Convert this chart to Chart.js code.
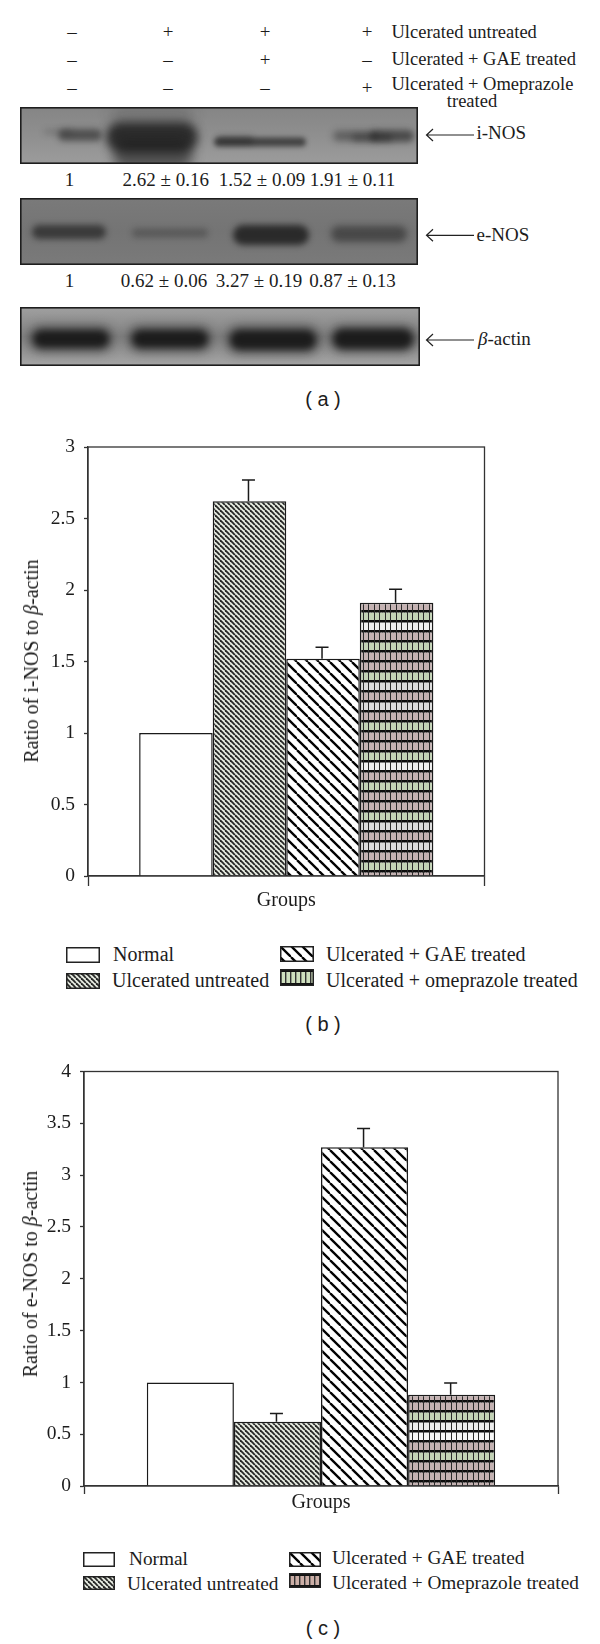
<!DOCTYPE html>
<html>
<head>
<meta charset="utf-8">
<title>i-NOS and e-NOS expression</title>
<script src="https://cdn.jsdelivr.net/npm/chart.js@4/dist/chart.umd.min.js"></script>
<style>
    html, body { margin: 0; padding: 0; background: #fff; }
    #page { position: relative; width: 600px; height: 1644px; overflow: hidden; font-family: "Liberation Serif", serif; color: #1c1c1c; }
    #page canvas { position: absolute; }
    .t { position: absolute; white-space: nowrap; font-size: 19px; line-height: 22px; transform: translateY(-50%); }
    .c { transform: translate(-50%, -50%); }
    .top { font-size: 18.5px; }
    .lb { font-size: 20px; }
    .lc { font-size: 19.3px; }
    .cap { font-family: "Liberation Sans", sans-serif; font-size: 20px; }
    .ytitle { font-size: 20px; transform: translate(-50%, -50%) rotate(-90deg); }
    svg { position: absolute; left: 0; top: 0; }
</style>
</head>
<body>
<div id="page">
    <canvas id="blot1"></canvas>
    <canvas id="blot2"></canvas>
    <canvas id="blot3"></canvas>
    <canvas id="chartB" width="600" height="510"></canvas>
    <canvas id="chartC" width="600" height="490"></canvas>
</div>
<script>
// chart values
const categories = ["Groups"];
const seriesB = ["Normal", "Ulcerated untreated", "Ulcerated + GAE treated", "Ulcerated + omeprazole treated"];
const seriesC = ["Normal", "Ulcerated untreated", "Ulcerated + GAE treated", "Ulcerated + Omeprazole treated"];
const valuesB = [1, 2.62, 1.52, 1.91];
const errorsB = [0, 0.15, 0.08, 0.095];
const valuesC = [1, 0.62, 3.27, 0.88];
const errorsC = [0, 0.08, 0.18, 0.115];
const ticksB = ["0", "0.5", "1", "1.5", "2", "2.5", "3"];
const ticksC = ["0", "0.5", "1", "1.5", "2", "2.5", "3", "3.5", "4"];

// blot panel text
const treatments = ["Ulcerated untreated", "Ulcerated + GAE treated", "Ulcerated + Omeprazole"];
const signs = [["–", "+", "+", "+"], ["–", "–", "+", "–"], ["–", "–", "–", "+"]];
const inosRatios = ["1", "2.62 ± 0.16", "1.52 ± 0.09", "1.91 ± 0.11"];
const enosRatios = ["1", "0.62 ± 0.06", "3.27 ± 0.19", "0.87 ± 0.13"];

const page = document.getElementById("page");
const SERIF = "Liberation Serif";

function addText(html, x, y, cls) {
    const el = document.createElement("div");
    el.className = "t " + (cls || "");
    el.innerHTML = html;
    el.style.left = x + "px";
    el.style.top = y + "px";
    page.appendChild(el);
    return el;
}

// ---- fill patterns ----
function tile(w, h, paint) {
    const c = document.createElement("canvas");
    c.width = w;
    c.height = h;
    paint(c.getContext("2d"));
    return c;
}

function diagonalTile(period, lineWidth, ink, paper) {
    return tile(period, period, function (g) {
        g.fillStyle = paper;
        g.fillRect(0, 0, period, period);
        g.strokeStyle = ink;
        g.lineWidth = lineWidth;
        for (let i = -period; i <= period; i += period) {
            g.beginPath();
            g.moveTo(i, 0);
            g.lineTo(i + period, period);
            g.stroke();
        }
    });
}

// rows drift between white, pink and green like the scanned hatch does
function gridTile(rowColours) {
    const cw = 11, rh = 10;
    return tile(cw, rh * rowColours.length, function (g) {
        rowColours.forEach(function (col, r) {
            g.fillStyle = "#fff";
            g.fillRect(0, r * rh, cw, rh);
            g.fillStyle = col;
            for (let y = 0; y < rh; y++) {
                for (let x = 0; x < cw; x++) {
                    if ((x + y) % 2 === 0 || y > 2) g.fillRect(x, r * rh + y, 1, 1);
                }
            }
        });
        g.fillStyle = "#0c0c0c";
        for (let r = 0; r < rowColours.length; r++) g.fillRect(0, r * rh, cw, 2.5);
        g.fillStyle = "#2a2a2a";
        g.fillRect(0, 0, 1, rh * rowColours.length);
        g.fillRect(5, 0, 1, rh * rowColours.length);
    });
}

const PINK = "#c4b2b2", GREEN = "#c3d3b6", PALE = "#dcdcdc";
const denseTile = diagonalTile(5, 1.8, "#262626", "#e6ebe0");
const sparseTile = diagonalTile(11, 2.3, "#000", "#fff");
const gridTileB = gridTile([PALE, PINK, GREEN, PINK, PINK, GREEN, "#f0f0f0", PINK, GREEN, PINK, PINK, GREEN, PALE, PINK]);
const gridTileC = gridTile([PINK, GREEN, PINK, PINK, GREEN, "#ededed", "#f8f8f8", PINK, GREEN, PINK, PINK]);

function barFills(ctx, gridT) {
    return ["#fff", ctx.createPattern(denseTile, "repeat"), ctx.createPattern(sparseTile, "repeat"), ctx.createPattern(gridT, "repeat")];
}

// ---- chart plugins ----
const framePlugin = {
    id: "frame",
    afterDraw(chart) {
        const a = chart.chartArea, g = chart.ctx;
        g.save();
        g.strokeStyle = "#333";
        g.lineWidth = 1.3;
        g.strokeRect(a.left, a.top, a.right - a.left, a.bottom - a.top);
        g.restore();
    }
};

const errorBarPlugin = {
    id: "errorBars",
    afterDatasetsDraw(chart, args, opts) {
        const g = chart.ctx, y = chart.scales.y;
        g.save();
        g.strokeStyle = "#1a1a1a";
        g.lineWidth = 1.5;
        opts.errors.forEach(function (err, i) {
            if (!err) return;
            const bar = chart.getDatasetMeta(i).data[0];
            const top = y.getPixelForValue(chart.data.datasets[i].data[0] + err);
            g.beginPath();
            g.moveTo(bar.x - 1, bar.y);
            g.lineTo(bar.x - 1, top);
            g.moveTo(bar.x - 7.5, top);
            g.lineTo(bar.x + 5.5, top);
            g.stroke();
        });
        g.restore();
    }
};

function buildChart(id, opts) {
    const canvas = document.getElementById(id);
    canvas.style.left = "0px";
    canvas.style.top = opts.top + "px";
    const ctx = canvas.getContext("2d");
    const fills = barFills(ctx, opts.gridT);
    return new Chart(ctx, {
        type: "bar",
        data: {
            labels: categories,
            datasets: opts.names.map(function (name, i) {
                return {
                    label: name,
                    data: [opts.values[i]],
                    backgroundColor: fills[i],
                    borderColor: "#1a1a1a",
                    borderWidth: 1.5,
                    categoryPercentage: opts.groupWidth,
                    barPercentage: 1
                };
            })
        },
        plugins: [framePlugin, errorBarPlugin],
        options: {
            responsive: false,
            animation: false,
            devicePixelRatio: 1,
            layout: {
                autoPadding: false,
                padding: { left: 0, top: opts.plotTop, right: opts.paddingRight, bottom: 0 }
            },
            plugins: {
                legend: { display: false },
                tooltip: { enabled: false },
                errorBars: { errors: opts.errors }
            },
            scales: {
                x: {
                    offset: true,
                    grid: { drawOnChartArea: false, tickLength: opts.xTickLen, tickColor: "#333", tickWidth: 1.3 },
                    border: { color: "#333", width: 1.3 },
                    ticks: { color: "#1c1c1c", font: { family: SERIF, size: 20 }, padding: opts.xPad, maxRotation: 0 },
                    afterFit(scale) { scale.height = opts.xHeight; }
                },
                y: {
                    min: 0,
                    max: opts.yMax,
                    grid: { drawOnChartArea: false, tickLength: 4, tickColor: "#333", tickWidth: 1.3 },
                    border: { color: "#333", width: 1.3 },
                    ticks: {
                        stepSize: 0.5,
                        padding: opts.yPad,
                        color: "#1c1c1c",
                        font: { family: SERIF, size: 19.5 },
                        callback: function (v, i) { return opts.ticks[i]; }
                    },
                    afterFit(scale) { scale.width = opts.plotLeft; }
                }
            }
        }
    });
}

buildChart("chartB", {
    top: 420, names: seriesB, values: valuesB, errors: errorsB, ticks: ticksB, yMax: 3, gridT: gridTileB, groupWidth: 0.742,
    plotLeft: 88, plotTop: 27, paddingRight: 115.5, xHeight: 54, xTickLen: 10, xPad: 2.5, yPad: 9
});
buildChart("chartC", {
    top: 1040, names: seriesC, values: valuesC, errors: errorsC, ticks: ticksC, yMax: 4, gridT: gridTileC, groupWidth: 0.735,
    plotLeft: 84, plotTop: 31.5, paddingRight: 42, xHeight: 44, xTickLen: 8, xPad: -3.5, yPad: 9
});

addText("Ratio of i-NOS to <i>β</i>-actin", 31, 661, "c ytitle");
addText("Ratio of e-NOS to <i>β</i>-actin", 30, 1274, "c ytitle");

// ---- legends ----
function swatch(x, y, w, h, kind, gridColour) {
    const c = document.createElement("canvas");
    c.width = w;
    c.height = h;
    c.style.left = x + "px";
    c.style.top = y + "px";
    page.appendChild(c);
    const g = c.getContext("2d");
    g.fillStyle = "#fff";
    g.fillRect(0, 0, w, h);
    if (kind === 1) { g.fillStyle = g.createPattern(denseTile, "repeat"); g.fillRect(0, 0, w, h); }
    if (kind === 2) { g.fillStyle = g.createPattern(sparseTile, "repeat"); g.fillRect(0, 0, w, h); }
    if (kind === 3) {
        g.fillStyle = gridColour;
        g.fillRect(0, 0, w, h);
        g.fillStyle = "#333";
        for (let i = 0; i < w; i += 5) g.fillRect(i, 0, 1.4, h);
        g.fillStyle = "#111";
        g.fillRect(0, 0, w, 3);
        g.fillRect(0, h - 3, w, 3);
    }
    g.strokeStyle = "#222";
    g.lineWidth = 1.5;
    g.strokeRect(0.75, 0.75, w - 1.5, h - 1.5);
}

swatch(66, 947, 34, 16, 0);
swatch(66, 973, 34, 16, 1);
swatch(280, 946, 34, 16, 2);
swatch(280, 969, 34, 17, 3, "#cfe0bf");
addText(seriesB[0], 113, 954, "lb");
addText(seriesB[1], 112, 979.5, "lb");
addText(seriesB[2], 326, 953.7, "lb");
addText(seriesB[3], 326, 979.5, "lb");

swatch(83, 1551.5, 32, 15, 0);
swatch(83, 1576, 32, 14, 1);
swatch(289, 1551.5, 32, 15, 2);
swatch(289, 1573, 32, 15, 3, "#cbaea6");
addText(seriesC[0], 129, 1559, "lc");
addText(seriesC[1], 127, 1583.5, "lc");
addText(seriesC[2], 332, 1557.5, "lc");
addText(seriesC[3], 332, 1582.5, "lc");

addText("( a )", 323, 399, "c cap");
addText("( b )", 323, 1024, "c cap");
addText("( c )", 323, 1627.5, "c cap");

// ---- blot panel ----
const signX = [72, 168, 265, 367];
const signY = [32, 60, 88];
signs.forEach(function (row, r) {
    row.forEach(function (s, i) {
        addText(s, signX[i], signY[r] + (s === "–" ? 0 : -0.5), "c");
    });
    addText(treatments[r], 391.5, [31.7, 59.3, 84][r], "top");
});
addText("treated", 472, 101.3, "c top");

[69.6, 165.8, 262, 352.5].forEach(function (x, i) { addText(inosRatios[i], x, 180, "c"); });
[69.6, 164, 259, 352.5].forEach(function (x, i) { addText(enosRatios[i], x, 280.7, "c"); });

addText("i-NOS", 476.5, 133.3);
addText("e-NOS", 476.5, 235);
addText("<i>β</i>-actin", 478, 339.3);

const svgNS = "http://www.w3.org/2000/svg";
const arrows = document.createElementNS(svgNS, "svg");
arrows.setAttribute("width", 600);
arrows.setAttribute("height", 420);
[135, 235.3, 340].forEach(function (y) {
    const p = document.createElementNS(svgNS, "path");
    p.setAttribute("d", "M474 " + y + "H427M433 " + (y - 6) + "L426.5 " + y + "L433 " + (y + 6));
    p.setAttribute("stroke", "#222");
    p.setAttribute("stroke-width", "1.2");
    p.setAttribute("fill", "none");
    arrows.appendChild(p);
});
page.appendChild(arrows);

function drawBlot(id, box, stops, bands) {
    const c = document.getElementById(id);
    c.width = box[2];
    c.height = box[3];
    c.style.left = box[0] + "px";
    c.style.top = box[1] + "px";
    const g = c.getContext("2d");
    const bg = g.createLinearGradient(0, 0, 0, box[3]);
    stops.forEach(function (s, i) { bg.addColorStop(i / (stops.length - 1), s); });
    g.fillStyle = bg;
    g.fillRect(0, 0, box[2], box[3]);
    bands.forEach(function (b) {
        g.save();
        g.filter = "blur(" + b[5] + "px)";
        g.fillStyle = "rgba(18,18,18," + b[4] + ")";
        g.beginPath();
        g.roundRect(b[0] - b[2], b[1] - b[3], b[2] * 2, b[3] * 2, b[3]);
        g.fill();
        g.restore();
    });
    g.strokeStyle = "#1e1e1e";
    g.lineWidth = 1.6;
    g.strokeRect(0.8, 0.8, box[2] - 1.6, box[3] - 1.6);
}

// bands: centre x, centre y, half width, half height, darkness, blur
drawBlot("blot1", [20, 107, 398, 57], ["#858585", "#8f8f8f", "#9c9c9c"], [
    [38, 25, 14, 2.5, 0.2, 3], [60, 28, 22, 6, 0.5, 3],
    [132, 30, 46, 15, 0.78, 5], [133, 48, 40, 14, 0.55, 6], [132, 8, 42, 10, 0.15, 7],
    [240, 35, 46, 4.5, 0.62, 2.5], [215, 33, 18, 4, 0.3, 3],
    [335, 29, 22, 5, 0.4, 3.5], [372, 29, 22, 6, 0.55, 3], [352, 31, 20, 4, 0.3, 3]
]);
drawBlot("blot2", [20, 198, 398, 67], ["#7a7a7a", "#747474", "#7a7a7a"], [
    [49, 34, 37, 7, 0.6, 3],
    [150, 35, 38, 4.5, 0.28, 3],
    [251, 37, 38, 10, 0.75, 3],
    [349, 36, 38, 8, 0.45, 3.5]
]);
drawBlot("blot3", [20, 307, 400, 59], ["#a0a0a0", "#828282", "#a6a6a6"], [
    [51, 32, 44, 15, 0.3, 5], [51, 32, 38, 9, 0.88, 3.5],
    [150, 32, 44, 15, 0.3, 5], [150, 32, 38, 9, 0.88, 3.5],
    [253, 33, 49, 16, 0.3, 5], [253, 33, 43, 10, 0.88, 3.5],
    [353, 32, 45, 15, 0.3, 5], [353, 32, 40, 10, 0.88, 3.5]
]);
</script>
</body>
</html>
